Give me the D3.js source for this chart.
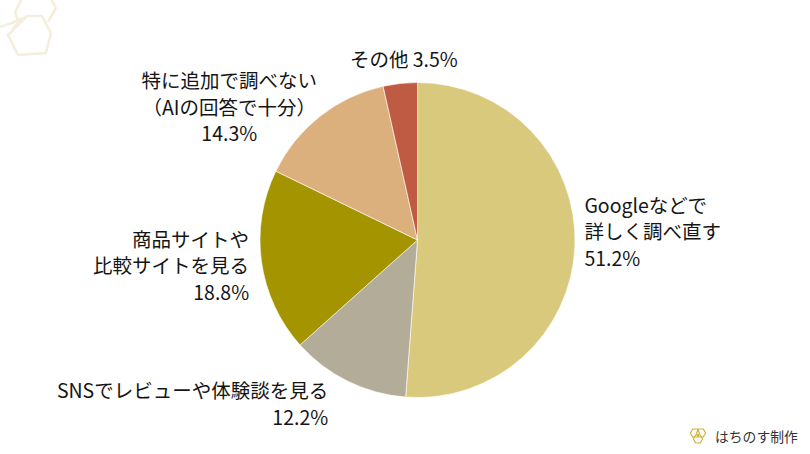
<!DOCTYPE html>
<html><head><meta charset="utf-8">
<script src="https://cdn.jsdelivr.net/npm/d3@7"></script>
<style>html,body{margin:0;padding:0;background:#fff;}svg{display:block;}</style>
</head><body>
<svg id="c" width="810" height="454"></svg>
<script>
// ---- data ----
const categories = [
  ["Googleなどで", "詳しく調べ直す"],
  ["SNSでレビューや体験談を見る"],
  ["商品サイトや", "比較サイトを見る"],
  ["特に追加で調べない", "（AIの回答で十分）"],
  ["その他"]
];
const values = [51.2, 12.2, 18.8, 14.3, 3.5];
const colors = ["#D9C97C", "#B2AC98", "#A39400", "#DBB07C", "#C05B43"];
const pctInline = [false, false, false, false, true];
const lineAlign = ["start", "end", "end", "middle", "middle"];
// label layout nudges (px)
const nudges = [[-3,-14],[-14,12],[0,3],[5,1],[5,-11]];

const svg = d3.select("#c");
const cx = 417.5, cy = 240, R = 157.5, LR = 170, LH = 26.7;
const FONT = "'Noto Sans CJK JP','Noto Sans',sans-serif";

// decorative outline shapes top-left
const line = d3.line();
const deco = svg.append("g").attr("fill", "none").attr("stroke", "#F4EFDC").attr("stroke-width", 2.6).attr("stroke-linejoin", "round");
deco.append("path").attr("d", line([[27,16],[42,16],[51,33],[46,53],[18,55],[8,35]]) + "Z");
deco.append("path").attr("d", line([[15,12],[23,-3],[50,-3],[56,8],[48,22]]));
deco.append("path").attr("d", line([[15,12],[18,20],[27,17]]));
deco.append("path").attr("d", line([[0,27],[12,23],[18,20]]));
deco.append("path").attr("d", line([[12,30],[20,20]]));

// pie
const pie = d3.pie().sort(null).value(d => d);
const arcs = pie(values);
const arc = d3.arc().innerRadius(0).outerRadius(R);
const g = svg.append("g").attr("transform", `translate(${cx},${cy})`);
g.selectAll("path").data(arcs).join("path")
  .attr("d", arc)
  .attr("fill", (d, i) => colors[i])
  .attr("stroke", "#fff").attr("stroke-width", 0.6);

// labels
const fmt = v => v.toFixed(1) + "%";
arcs.forEach((d, i) => {
  const a = (d.startAngle + d.endAngle) / 2;
  const s = Math.sin(a), c = Math.cos(a);
  const px = cx + LR * s + nudges[i][0];
  const py = cy - LR * c + nudges[i][1];
  let lines = categories[i].slice();
  if (pctInline[i]) lines[lines.length - 1] += " " + fmt(values[i]);
  else lines.push(fmt(values[i]));
  const t = svg.append("text")
    .attr("font-family", FONT).attr("font-size", 19.5).attr("fill", "#151515");
  const n = lines.length;
  const y0 = py - (n - 1) * LH / 2 + 7;
  const tspans = lines.map((ln, k) => t.append("tspan").attr("y", y0 + k * LH).text(ln));
  const widths = tspans.map(ts => ts.node().getComputedTextLength());
  const bw = d3.max(widths);
  let left;
  if (Math.abs(s) < 0.3) left = px - bw / 2;
  else if (s > 0) left = px;
  else left = px - bw;
  tspans.forEach(ts => {
    const al = lineAlign[i];
    if (al === "start") ts.attr("x", left).attr("text-anchor", "start");
    else if (al === "end") ts.attr("x", left + bw).attr("text-anchor", "end");
    else ts.attr("x", left + bw / 2).attr("text-anchor", "middle");
  });
});

// watermark
function hex(x, y, r, rot) {
  const pts = d3.range(6).map(i => {
    const a = (rot + i * 60) * Math.PI / 180;
    return [x + r * Math.cos(a), y + r * Math.sin(a)];
  });
  return line(pts) + "Z";
}
const wm = svg.append("g").attr("fill", "none").attr("stroke", "#D4AF37").attr("stroke-width", 1.2);
wm.append("path").attr("d", hex(695, 433, 4.6, 0));
wm.append("path").attr("d", hex(701, 433, 4.6, 0));
wm.append("path").attr("d", hex(698, 439, 4.6, 0));
svg.append("text").attr("x", 715).attr("y", 442)
  .attr("font-family", FONT).attr("font-size", 13.8).attr("fill", "#333")
  .text("はちのす制作");
</script>
</body></html>
